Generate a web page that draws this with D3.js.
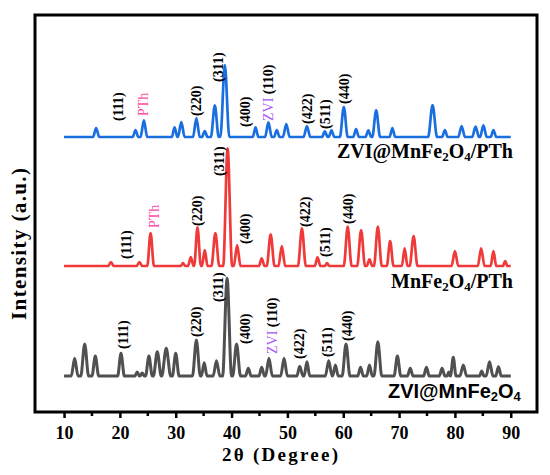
<!DOCTYPE html>
<meta charset="utf-8">
<style>
body { margin: 0; background: #fff; }
text { font-family: "Liberation Serif", "Times New Roman", serif; }
.hkl { font-size: 14px; font-weight: bold; }
.name { font-size: 20px; font-weight: bold; }
</style>
<body>
<svg width="550" height="475"></svg>
<script src="https://cdnjs.cloudflare.com/ajax/libs/d3/7.8.5/d3.min.js"></script>
<script>

// 2θ (degree) vs intensity (a.u.); each pattern is relative to its own baseline
var zviMnFe2O4 = [
  [10,0],[11.3,0],[11.9,177],[12.5,0],[13.0,0],[13.7,320],[14.4,0],[15.0,0],[15.6,200],[16.2,0],
  [19.6,0],[20.2,227],[20.8,0],[22.7,0],[23.1,40],[23.5,0],[23.6,0],[24.0,30],[24.4,0],
  [24.6,0],[25.2,200],[25.8,0],[26.0,0],[26.7,243],[27.4,0],[27.5,0],[28.3,277],[29.1,0],
  [29.4,0],[30.0,227],[30.6,0],[33.0,0],[33.7,360],[34.4,0],[34.6,0],[35.1,133],[35.6,0],
  [36.7,0],[37.3,153],[37.9,0],[38.4,0],[39.2,977],[40.0,0],[40.2,0],[40.9,320],[41.6,0],
  [42.5,0],[43.0,77],[43.5,0],[44.9,0],[45.4,87],[45.9,0],[46.1,0],[46.7,177],[47.3,0],
  [48.8,0],[49.4,177],[50.0,0],[51.7,0],[52.2,97],[52.8,0],[53.0,0],[53.5,143],[54.0,0],
  [56.8,0],[57.4,153],[58.0,0],[58.1,0],[58.6,110],[59.1,0],[59.8,0],[60.5,320],[61.2,0],
  [62.6,0],[63.1,87],[63.6,0],[64.2,0],[64.7,110],[65.2,0],[65.5,0],[66.2,343],[66.9,0],
  [69.1,0],[69.7,200],[70.3,0],[71.5,0],[72.0,77],[72.5,0],[74.4,0],[74.9,87],[75.4,0],
  [77.2,0],[77.7,77],[78.2,0],[78.6,0],[78.9,40],[79.15,0],[79.2,0],[79.7,187],[80.2,0],
  [80.9,0],[81.5,110],[82.1,0],[84.4,0],[84.8,50],[85.2,0],[85.6,0],[86.2,143],[86.8,0],
  [87.3,0],[87.8,93],[88.3,0],[90,0]
];

var mnFe2O4PTh = [
  [10,0],[17.9,0],[18.4,40],[18.9,0],[23.0,0],[23.5,40],[24.0,0],[24.9,0],[25.5,330],[26.1,0],
  [30.9,0],[31.3,30],[31.7,0],[32.2,0],[32.7,90],[33.2,0],[33.3,0],[33.9,387],[34.5,0],
  [34.7,0],[35.2,160],[35.7,0],[36.4,0],[37.1,330],[37.8,0],[38.5,0],[39.3,1177],[40.1,0],
  [40.4,0],[41.0,210],[41.6,0],[44.9,0],[45.4,77],[45.9,0],[46.3,0],[47.0,317],[47.7,0],
  [48.4,0],[49.0,200],[49.6,0],[51.9,0],[52.6,377],[53.3,0],[54.9,0],[55.4,87],[55.9,0],
  [56.7,0],[57.1,30],[57.5,0],[60.1,0],[60.8,393],[61.5,0],[62.5,0],[63.2,360],[63.9,0],
  [64.2,0],[64.7,67],[65.2,0],[65.5,0],[66.2,393],[66.9,0],[67.8,0],[68.4,250],[69.0,0],
  [70.5,0],[71.0,177],[71.5,0],[71.9,0],[72.6,300],[73.3,0],[79.4,0],[80.0,150],[80.6,0],
  [84.1,0],[84.7,177],[85.3,0],[86.4,0],[86.9,150],[87.4,0],[88.6,0],[89.0,50],[89.4,0],[90,0]
];

var zviMnFe2O4PTh = [
  [10,0],[15.2,0],[15.75,90],[16.3,0],[22.3,0],[22.8,70],[23.3,0],[23.7,0],[24.3,166],[24.9,0],
  [29.3,0],[29.8,96],[30.3,0],[30.4,0],[31.0,150],[31.6,0],[33.1,0],[33.7,190],[34.3,0],
  [34.7,0],[35.2,60],[35.7,0],[36.3,0],[37.0,316],[37.7,0],[38.0,0],[38.8,720],[39.6,0],
  [43.8,0],[44.3,96],[44.8,0],[46.0,0],[46.6,146],[47.2,0],[47.6,0],[48.1,70],[48.6,0],
  [49.2,0],[49.8,130],[50.4,0],[52.9,0],[53.5,110],[54.1,0],[56.2,0],[56.7,56],[57.2,0],
  [57.4,0],[57.9,66],[58.4,0],[59.4,0],[60.1,300],[60.8,0],[61.8,0],[62.3,80],[62.8,0],
  [64.0,0],[64.5,66],[65.0,0],[65.2,0],[65.9,266],[66.6,0],[68.3,0],[68.8,90],[69.3,0],
  [75.2,0],[76.0,320],[76.8,0],[77.7,0],[78.2,70],[78.7,0],[80.6,0],[81.2,110],[81.8,0],
  [83.1,0],[83.7,105],[84.3,0],[84.5,0],[85.1,116],[85.7,0],[86.4,0],[86.9,70],[87.4,0],[90,0]
];

var patterns = [zviMnFe2O4, mnFe2O4PTh, zviMnFe2O4PTh];
var offsets = [360, 1460, 2750];
var colors = ["#505050", "#f03a3a", "#1a6fe0"];

// reflection labels: [text, 2θ, intensity at the foot of the label]
var greyLabels = [["(111)",20.6,630],["(220)",33.7,750],["(311)",37.5,1100],["(400)",42.4,680],
  ["ZVI",47.2,580],["(422)",52.1,530],["(511)",57.1,550],["(440)",60.7,710]];
var redLabels = [["(111)",21.1,1530],["PTh",26.2,1840],["(220)",33.9,1860],["(311)",37.7,2360],
  ["(400)",42.4,1680],["(422)",53.1,1850],["(511)",56.7,1550],["(440)",60.9,1880]];
var blueLabels = [["(111)",19.7,2910],["PTh",24.2,2960],["(220)",33.7,2960],["(311)",37.5,3300],
  ["(400)",42.4,2850],["ZVI",46.5,2910],["(422)",53.5,2880],["(511)",56.7,2830],["(440)",60.2,3080]];

var xTicks = [10, 20, 30, 40, 50, 60, 70, 80, 90];
var xMinor = [15, 25, 35, 45, 55, 65, 75, 85];

var svg = d3.select("svg"),
    mLeft = 35, mRight = 537, mTop = 15, mBottom = 412;

var x = d3.scaleLinear().domain([4.8, 94.7]).range([mLeft, mRight]);
var y = d3.scaleLinear().domain([0, 3970]).range([mBottom, mTop]);

var line = d3.line()
    .curve(d3.curveMonotoneX)
    .x(function(d) { return x(d[0]); })
    .y(function(d) { return y(d[1]); });

patterns.forEach(function(p, i) {
  svg.append("path")
      .datum(p.map(function(d) { return [d[0], d[1] + offsets[i]]; }))
      .attr("fill", "none")
      .attr("stroke", colors[i])
      .attr("stroke-width", i == 0 ? 3 : 2.7)
      .attr("stroke-linejoin", "round")
      .attr("d", line);
});

function drawLabels(list) {
  list.forEach(function(l) {
    var t = svg.append("text")
        .attr("class", "hkl")
        .attr("transform", "translate(" + x(l[1]) + "," + y(l[2]) + ") rotate(-90)")
        .attr("dy", "0.35em");
    if (l[0] == "PTh") {
      t.attr("fill", "#ff4fa8").style("font-weight", "normal").text("PTh");
    } else if (l[0] == "ZVI") {
      t.append("tspan").attr("fill", "#a855f7").style("font-weight", "normal").text("ZVI ");
      t.append("tspan").text("(110)");
    } else {
      t.text(l[0]);
    }
  });
}
drawLabels(greyLabels);
drawLabels(redLabels);
drawLabels(blueLabels);

// sample names
function sampleName(parts, xv, yv, sans) {
  var t = svg.append("text")
      .attr("class", "name")
      .attr("x", x(xv))
      .attr("y", y(yv))
      .attr("text-anchor", "end");
  if (sans) t.style("font-family", "'Liberation Sans', Arial, sans-serif");
  parts.forEach(function(p) {
    var s = t.append("tspan").text(p[0]);
    if (p[1]) s.attr("baseline-shift", "-25%").style("font-size", "13px");
  });
}
sampleName([["ZVI@MnFe"],["2",1],["O"],["4",1],["/PTh"]], 90.4, 2540);
sampleName([["MnFe"],["2",1],["O"],["4",1],["/PTh"]], 90.4, 1240);
sampleName([["ZVI@MnFe"],["2",1],["O"],["4",1]], 91.8, 140, true);

// axes
var ax = svg.append("g").attr("transform", "translate(0," + mBottom + ")");
ax.call(d3.axisBottom(x).tickValues(xTicks).tickSize(6).tickPadding(8).tickFormat(d3.format("d")));
ax.select(".domain").remove();
ax.selectAll(".tick line").attr("stroke", "#000").attr("stroke-width", 2.5);
ax.selectAll(".tick text").attr("fill", "#000").style("font-size", "18px").style("font-weight", "bold")
    .style("font-family", "'Liberation Serif', serif");
ax.selectAll(".minor").data(xMinor).enter().append("line")
    .attr("x1", function(d) { return x(d); })
    .attr("x2", function(d) { return x(d); })
    .attr("y1", 0).attr("y2", 4)
    .attr("stroke", "#000").attr("stroke-width", 2.5);

svg.append("rect")
    .attr("x", mLeft).attr("y", mTop)
    .attr("width", mRight - mLeft).attr("height", mBottom - mTop)
    .attr("fill", "none").attr("stroke", "#000").attr("stroke-width", 3);

svg.append("text")
    .attr("x", 280)
    .attr("y", 461)
    .attr("text-anchor", "middle")
    .attr("textLength", 116)
    .style("font-size", "19px").style("font-weight", "bold")
    .text("2θ (Degree)");

svg.append("text")
    .attr("transform", "translate(26,244) rotate(-90)")
    .attr("text-anchor", "middle")
    .attr("textLength", 152)
    .style("font-size", "21px").style("font-weight", "bold")
    .text("Intensity (a.u.)");

</script>
</body>
